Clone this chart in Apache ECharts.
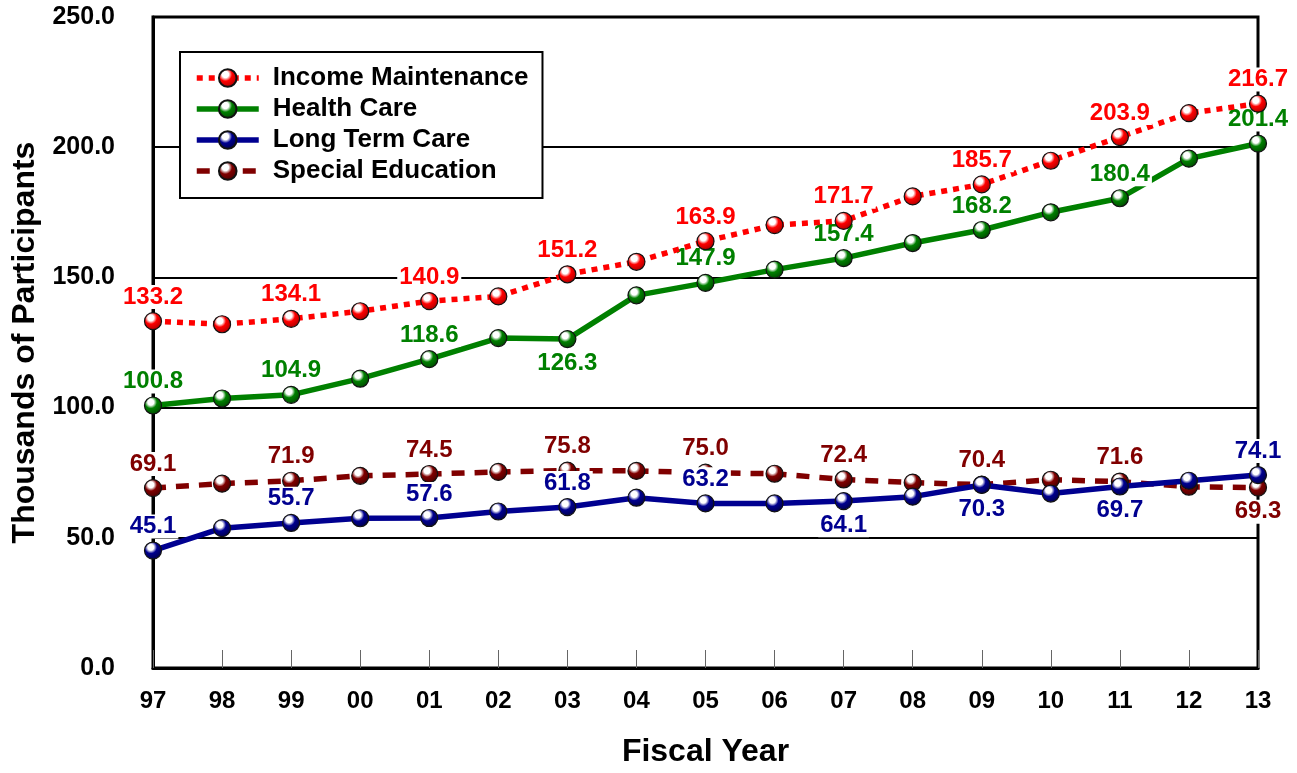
<!DOCTYPE html>
<html>
<head>
<meta charset="utf-8">
<script src="https://cdn.jsdelivr.net/npm/echarts@6/dist/echarts.min.js"></script>
<style>
html,body{margin:0;padding:0;background:#fff;overflow:hidden;}
#chart{width:1297px;height:773px;}
</style>
</head>
<body>
<div id="chart"></div>
<script>
// ---- Data ----
var years = ['97','98','99','00','01','02','03','04','05','06','07','08','09','10','11','12','13'];
var incomeMaintenance = [133.2,132.0,134.1,137.0,140.9,142.7,151.2,156.0,163.9,170.1,171.7,181.1,185.7,194.8,203.9,213.1,216.7];
var healthCare = [100.8,103.5,104.9,111.1,118.6,126.7,126.3,143.1,147.9,153.0,157.4,163.2,168.2,175.0,180.4,195.6,201.4];
var longTermCare = [45.1,53.7,55.7,57.5,57.6,60.1,61.8,65.4,63.2,63.2,64.1,65.8,70.3,67.0,69.7,71.9,74.1];
var specialEducation = [69.1,70.8,71.9,73.8,74.5,75.3,75.8,75.7,75.0,74.6,72.4,71.2,70.4,72.3,71.6,69.6,69.3];
var yTicks = ['0.0','50.0','100.0','150.0','200.0','250.0'];

// ---- Build ----
var FONT = 'Arial, "Liberation Sans", sans-serif';
function ball(base, dark) {
  return {
    type: 'radial', x: 0.38, y: 0.32, r: 0.75,
    colorStops: [
      {offset: 0, color: '#ffffff'},
      {offset: 0.22, color: '#ffffff'},
      {offset: 0.45, color: base},
      {offset: 1, color: dark}
    ]
  };
}
function makeData(values, belowIdx) {
  return values.map(function (v, i) {
    return {
      value: v,
      label: {
        show: i % 2 === 0,
        position: belowIdx.indexOf(i) >= 0 ? 'bottom' : 'top',
        distance: 3
      }
    };
  });
}
function makeSeries(name, values, color, dark, lineType, z, belowIdx) {
  return {
    name: name,
    type: 'line',
    data: makeData(values, belowIdx),
    z: z,
    symbol: 'circle',
    symbolSize: 17,
    showAllSymbol: true,
    lineStyle: {color: color, width: 5.5, type: lineType},
    itemStyle: {color: ball(color, dark), borderColor: '#111', borderWidth: 1.2},
    label: {
      color: color,
      fontFamily: FONT,
      fontWeight: 'bold',
      fontSize: 24,
      backgroundColor: '#fff',
      padding: [0, 2, 0, 2],
      formatter: function (p) { return p.value.toFixed(1); }
    },
    emphasis: {disabled: true},
    animation: false
  };
}

var names = ['Income Maintenance', 'Health Care', 'Long Term Care', 'Special Education'];
var chart = echarts.init(document.getElementById('chart'), null, {width: 1297, height: 773});
chart.setOption({
  backgroundColor: '#fff',
  animation: false,
  grid: {left: 153, right: 39, top: 17, bottom: 100, show: true, borderColor: '#000', borderWidth: 3, backgroundColor: 'transparent'},
  legend: {
    orient: 'vertical',
    left: 180, top: 52,
    backgroundColor: '#fff',
    borderColor: '#000',
    borderWidth: 2,
    padding: [13, 14, 14, 14],
    itemWidth: 62,
    itemHeight: 22,
    itemGap: 5,
    lineStyle: {width: 5.5},
    textStyle: {fontFamily: FONT, fontWeight: 'bold', fontSize: 26, color: '#000', padding: [0, 0, 0, 9]},
    data: names
  },
  xAxis: {
    type: 'category',
    data: years,
    boundaryGap: false,
    name: 'Fiscal Year',
    nameLocation: 'middle',
    nameGap: 68,
    nameTextStyle: {fontFamily: FONT, fontWeight: 'bold', fontSize: 32, color: '#000'},
    axisLine: {show: true, lineStyle: {color: '#000', width: 3}},
    axisTick: {show: true, inside: true, length: 18, lineStyle: {color: '#666', width: 1}},
    axisLabel: {fontFamily: FONT, fontWeight: 'bold', fontSize: 24, color: '#000', margin: 21},
    splitLine: {show: false}
  },
  yAxis: {
    type: 'value',
    min: 0, max: 250, interval: 50,
    name: 'Thousands of Participants',
    nameLocation: 'middle',
    nameGap: 107,
    nameRotate: 90,
    nameTextStyle: {fontFamily: FONT, fontWeight: 'bold', fontSize: 32, color: '#000'},
    axisLine: {show: true, lineStyle: {color: '#000', width: 3}},
    axisTick: {show: false},
    axisLabel: {
      fontFamily: FONT, fontWeight: 'bold', fontSize: 25, color: '#000', margin: 38,
      formatter: function (v) { return yTicks[Math.round(v / 50)]; }
    },
    splitLine: {show: true, lineStyle: {color: '#000', width: 2}}
  },
  series: [
    makeSeries(names[0], incomeMaintenance, '#ff0000', '#a00000', [6, 6], 5, []),
    makeSeries(names[1], healthCare, '#008000', '#004000', 'solid', 4, [6]),
    makeSeries(names[2], longTermCare, '#000090', '#000040', 'solid', 3, [10, 12, 14]),
    makeSeries(names[3], specialEducation, '#800000', '#400000', [13, 10], 2, [16])
  ]
});
</script>
</body>
</html>
